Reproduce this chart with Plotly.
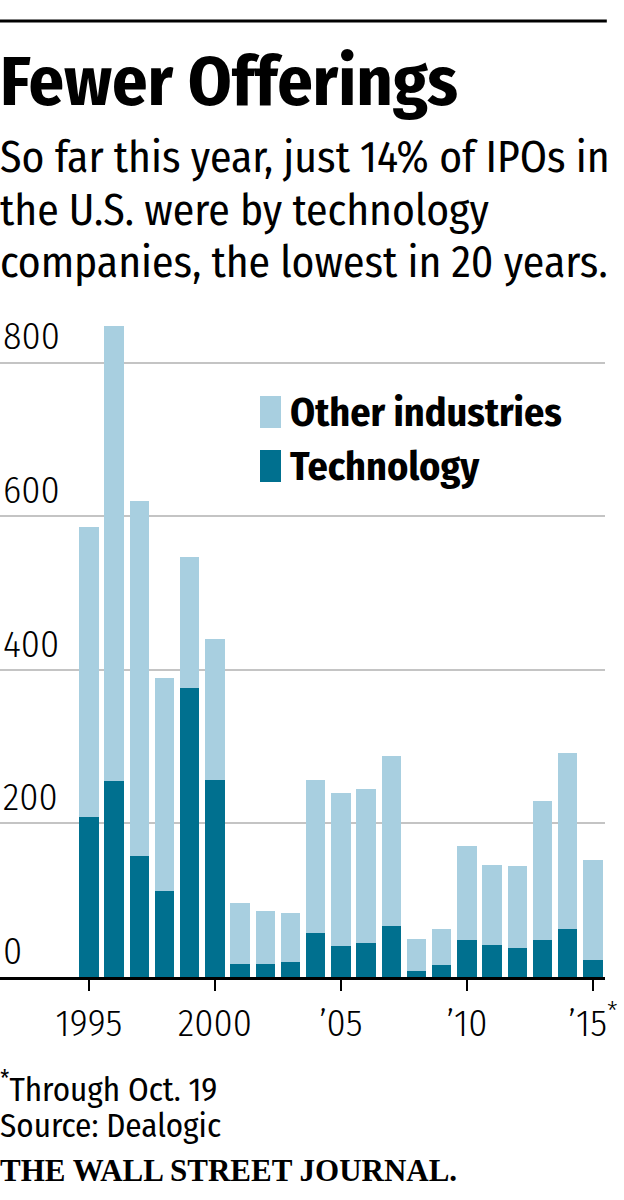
import plotly.graph_objects as go

# IPO counts per year (U.S.); 2015 is through Oct. 19
years = list(range(1995, 2016))
technology = [208, 255, 158, 112, 376, 256, 17, 17, 20, 57, 41, 44, 66, 8, 15, 48, 42, 38, 48, 62, 22]
other_industries = [378, 593, 462, 278, 171, 184, 79, 69, 63, 200, 199, 201, 222, 42, 48, 122, 104, 107, 181, 230, 130]

x_tickvals = [1995, 2000, 2005, 2010, 2015]
x_ticktext = ["1995", "2000", "’05", "’10", "’15<sup>*</sup>"]
y_tickvals = [0, 200, 400, 600, 800]

subtitle_lines = ["So far this year, just 14% of IPOs in",
                  "the U.S. were by technology",
                  "companies, the lowest in 20 years."]

LIGHT = "#a8cfe0"
DARK = "#00708f"
SANS = "Fira Sans Condensed, DejaVu Sans Condensed, Liberation Sans Narrow, sans-serif"
SERIF = "Liberation Serif, DejaVu Serif, serif"

# plot area: bottom at 977px, top at 309px (height 668px)
def py(y):
    return (977 - y) / 668

fig = go.Figure()
fig.add_trace(go.Bar(x=years, y=technology, name="Technology", marker_color=DARK, marker_line_width=0))
fig.add_trace(go.Bar(x=years, y=other_industries, name="Other industries", marker_color=LIGHT, marker_line_width=0))

fig.update_layout(
    barmode="stack",
    bargap=0.226,
    width=624, height=1200,
    margin=dict(l=0, r=19, t=309, b=223),
    paper_bgcolor="white", plot_bgcolor="white",
    showlegend=False,
    font=dict(family=SANS, color="black"),
)

fig.update_xaxes(
    range=[1991.47, 2015.48],
    tickvals=x_tickvals, ticktext=x_ticktext,
    showline=True, linecolor="black", linewidth=2.5,
    ticks="outside", ticklen=11, tickwidth=2, tickcolor="black",
    tickfont=dict(size=38, weight=300, color="black"),
    showgrid=False, zeroline=False,
)
fig.update_yaxes(
    range=[0, 870],
    tickvals=y_tickvals,
    ticklabelposition="inside top",
    tickfont=dict(size=38, weight=300, color="black"),
    showgrid=True, gridcolor="#c4c4c4", gridwidth=2,
    zeroline=False, showline=False,
)

# top rule
fig.add_shape(type="line", xref="paper", yref="paper", x0=0, x1=1.003, y0=py(21), y1=py(21),
              line=dict(color="black", width=3))

# title and subtitle
fig.add_annotation(text="<b>Fewer Offerings</b>", xref="paper", yref="paper", x=-0.003, y=py(82),
                   xanchor="left", yanchor="middle", showarrow=False,
                   font=dict(size=70, family=SANS))
for i, line in enumerate(subtitle_lines):
    fig.add_annotation(text=line, xref="paper", yref="paper", x=-0.003, y=py(158 + 52 * i),
                       xanchor="left", yanchor="middle", showarrow=False,
                       font=dict(size=43.5, family=SANS))

# legend
for label, color, cy in [("Other industries", LIGHT, 412), ("Technology", DARK, 466)]:
    fig.add_shape(type="rect", xref="paper", yref="paper", x0=260 / 605, x1=281 / 605,
                  y0=py(cy - 16), y1=py(cy + 16), fillcolor=color, line_width=0)
    fig.add_annotation(text="<b>" + label + "</b>", xref="paper", yref="paper", x=288 / 605, y=py(cy + 1),
                       xanchor="left", yanchor="middle", showarrow=False,
                       font=dict(size=40, family=SANS))

# footer
fig.add_annotation(text="<sup>*</sup>Through Oct. 19", xref="paper", yref="paper",
                   x=-0.003, y=py(1087), xanchor="left", yanchor="middle", showarrow=False,
                   font=dict(size=33, family=SANS))
fig.add_annotation(text="Source: Dealogic", xref="paper", yref="paper",
                   x=-0.003, y=py(1126), xanchor="left", yanchor="middle", showarrow=False,
                   font=dict(size=33, family=SANS))
fig.add_annotation(text="<b>THE WALL STREET JOURNAL.</b>", xref="paper", yref="paper",
                   x=-0.003, y=py(1170), xanchor="left", yanchor="middle", showarrow=False,
                   font=dict(size=31, family=SERIF))

fig.write_html("out.html", config={"displayModeBar": False},
               post_script="document.body.style.margin = '0px';")
